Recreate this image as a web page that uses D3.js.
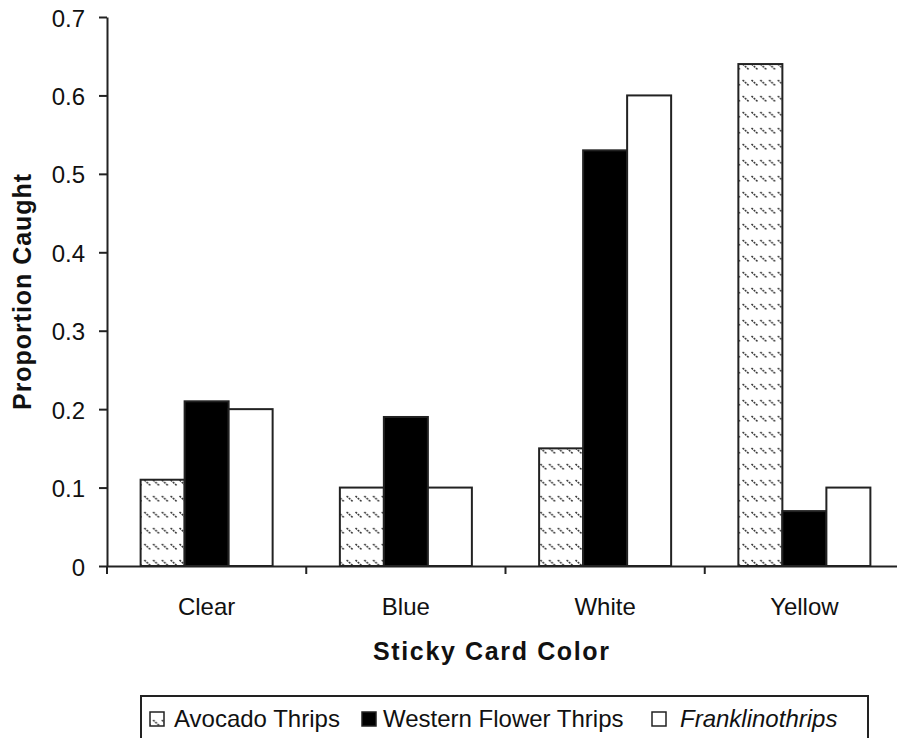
<!DOCTYPE html>
<html>
<head>
<meta charset="utf-8">
<script src="https://cdn.jsdelivr.net/npm/d3@7"></script>
<style>
  html, body { margin: 0; padding: 0; background: #fff; }
  svg { display: block; }
  text { font-family: "Liberation Sans", Arial, sans-serif; fill: #111; }
</style>
</head>
<body>
<svg id="chart" width="897" height="738"></svg>
<script>
const categories = ["Clear", "Blue", "White", "Yellow"];
const seriesNames = ["Avocado Thrips", "Western Flower Thrips", "Franklinothrips"];
const avocadoThrips = [0.11, 0.10, 0.15, 0.64];
const westernFlowerThrips = [0.21, 0.19, 0.53, 0.07];
const franklinothrips = [0.20, 0.10, 0.60, 0.10];
const yTickValues = [0, 0.1, 0.2, 0.3, 0.4, 0.5, 0.6, 0.7];
const yTickLabels = ["0", "0.1", "0.2", "0.3", "0.4", "0.5", "0.6", "0.7"];
const xTitle = "Sticky Card Color";
const yTitle = "Proportion Caught";

(function () {
const seriesValues = [avocadoThrips, westernFlowerThrips, franklinothrips];
const seriesFill = ["url(#hatch)", "#000", "#fff"];

const svg = d3.select("#chart");
const pLeft = 107, pRight = 904, pTop = 17, pBottom = 566;

const defs = svg.append("defs");
const pat = defs.append("pattern")
  .attr("id", "hatch")
  .attr("patternUnits", "userSpaceOnUse")
  .attr("x", 3).attr("y", 63)
  .attr("width", 8.8).attr("height", 16);
pat.append("rect").attr("width", 8.8).attr("height", 16).attr("fill", "#fff");
pat.append("line")
  .attr("x1", 0.5).attr("y1", 1).attr("x2", 6.5).attr("y2", 6.5)
  .attr("stroke", "#333").attr("stroke-width", 1.5)
  .attr("stroke-dasharray", "2 1");

const x = d3.scaleBand().domain(categories).range([pLeft, pRight]).paddingInner(0).paddingOuter(0);
const xs = d3.scaleBand().domain(d3.range(seriesNames.length)).range([0, x.bandwidth()])
  .paddingInner(0).paddingOuter(0.764);
const y = d3.scaleLinear().domain([0, 0.7]).range([pBottom, pTop]);

// bars
seriesValues.forEach((vals, si) => {
  svg.append("g").selectAll("rect").data(categories).join("rect")
    .attr("x", c => x(c) + xs(si))
    .attr("y", (c, i) => y(vals[i]))
    .attr("width", xs.bandwidth())
    .attr("height", (c, i) => y(0) - y(vals[i]))
    .attr("fill", seriesFill[si])
    .attr("stroke", "#222")
    .attr("stroke-width", 2);
});

// y axis
const yAxis = d3.axisLeft(y).tickValues(yTickValues).tickSize(8).tickSizeOuter(0)
  .tickPadding(14)
  .tickFormat((d, i) => yTickLabels[i]);
const gy = svg.append("g").attr("transform", `translate(${pLeft},0)`).call(yAxis);
gy.select(".domain").attr("stroke", "#222").attr("stroke-width", 2);
gy.selectAll(".tick line").attr("stroke", "#222").attr("stroke-width", 2);
gy.selectAll(".tick text").attr("font-size", 24).attr("font-family", "Liberation Sans, Arial, sans-serif")
  .attr("fill", "#111").attr("dy", "0.38em");

// x axis labels
const xAxis = d3.axisBottom(x).tickSize(0).tickSizeOuter(0).tickPadding(32);
const gx = svg.append("g").attr("transform", `translate(0,${pBottom})`).call(xAxis);
gx.select(".domain").attr("stroke", "#222").attr("stroke-width", 2);
gx.selectAll(".tick text").attr("font-size", 24).attr("font-family", "Liberation Sans, Arial, sans-serif")
  .attr("fill", "#111");
// boundary ticks
svg.append("g").selectAll("line").data(categories).join("line")
  .attr("x1", c => x(c)).attr("x2", c => x(c))
  .attr("y1", pBottom).attr("y2", pBottom + 8)
  .attr("stroke", "#222").attr("stroke-width", 2);

// titles
svg.append("text")
  .attr("x", 491).attr("y", 660)
  .attr("text-anchor", "middle")
  .attr("font-size", 25).attr("font-weight", "bold")
  .attr("textLength", 236).attr("lengthAdjust", "spacing")
  .text(xTitle);
svg.append("text")
  .attr("transform", "translate(31,292) rotate(-90)")
  .attr("text-anchor", "middle")
  .attr("font-size", 25).attr("font-weight", "bold")
  .attr("textLength", 236).attr("lengthAdjust", "spacing")
  .text(yTitle);

// legend
const lg = svg.append("g");
lg.append("rect").attr("x", 141).attr("y", 696).attr("width", 727).attr("height", 60)
  .attr("fill", "#fff").attr("stroke", "#222").attr("stroke-width", 2);
const legendItems = [
  { sx: 150, tx: 174, italic: false },
  { sx: 362, tx: 383, italic: false },
  { sx: 652, tx: 680, italic: true }
];
seriesNames.forEach((name, i) => {
  const it = legendItems[i];
  lg.append("rect").attr("x", it.sx).attr("y", 712).attr("width", 14).attr("height", 14)
    .attr("fill", seriesFill[i]).attr("stroke", "#222").attr("stroke-width", 1.5);
  lg.append("text").attr("x", it.tx).attr("y", 727)
    .attr("font-size", 24)
    .attr("font-style", it.italic ? "italic" : "normal")
    .text(name);
});
})();
</script>
</body>
</html>
